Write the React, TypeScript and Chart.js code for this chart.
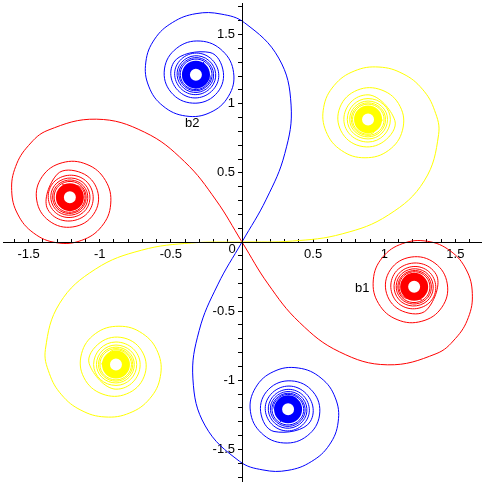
import React, { useEffect, useRef } from 'react';
import { Chart, registerables } from 'chart.js';

Chart.register(...registerables);

// Curve points [x, y] (each colour: two arms through the origin)
const yellowArmNE: number[][] = [
  [0, 0], [0.354, 0.007], [0.705, 0.059], [1.030, 0.196], [1.281, 0.442], [1.382, 0.777], [1.354, 0.951], [1.268, 1.105],
  [1.132, 1.216], [0.963, 1.265], [0.789, 1.236], [0.648, 1.132], [0.574, 0.973], [0.591, 0.799], [0.699, 0.662], [0.865, 0.609],
  [1.031, 0.663], [1.128, 0.808], [1.111, 0.981], [0.984, 1.098], [0.811, 1.098], [0.689, 0.975], [0.696, 0.803], [0.829, 0.694],
  [0.997, 0.727], [1.074, 0.880],
  [0.886, 1.064], [0.716, 0.886], [0.886, 0.723], [1.043, 0.886], [0.886, 1.037], [0.740, 0.886], [0.886, 0.745], [1.023, 0.886],
  [0.886, 1.019], [0.757, 0.886], [0.886, 0.760], [1.009, 0.886], [0.886, 1.006], [0.768, 0.886], [0.886, 0.771], [0.999, 0.886],
  [0.886, 0.997], [0.777, 0.886], [0.886, 0.779], [0.991, 0.886],
];
const yellowArmSW: number[][] = [
  [0, 0], [-0.354, -0.007], [-0.705, -0.059], [-1.030, -0.196], [-1.281, -0.442], [-1.382, -0.777], [-1.354, -0.951], [-1.268, -1.105],
  [-1.132, -1.216], [-0.963, -1.265], [-0.789, -1.236], [-0.648, -1.132], [-0.574, -0.973], [-0.591, -0.799], [-0.699, -0.662], [-0.865, -0.609],
  [-1.031, -0.663], [-1.128, -0.808], [-1.111, -0.981], [-0.984, -1.098], [-0.811, -1.098], [-0.689, -0.975], [-0.696, -0.803], [-0.829, -0.694],
  [-0.997, -0.727], [-1.074, -0.880],
  [-0.886, -1.064], [-0.716, -0.886], [-0.886, -0.723], [-1.043, -0.886], [-0.886, -1.037], [-0.740, -0.886], [-0.886, -0.745], [-1.023, -0.886],
  [-0.886, -1.019], [-0.757, -0.886], [-0.886, -0.760], [-1.009, -0.886], [-0.886, -1.006], [-0.768, -0.886], [-0.886, -0.771], [-0.999, -0.886],
  [-0.886, -0.997], [-0.777, -0.886], [-0.886, -0.779], [-0.991, -0.886],
];
const redArmSE: number[][] = [
  [0, 0], [0.183, -0.303], [0.404, -0.581], [0.685, -0.794], [1.023, -0.888], [1.364, -0.808], [1.501, -0.697], [1.591, -0.546],
  [1.619, -0.372], [1.577, -0.202], [1.465, -0.065], [1.304, 0.005], [1.130, -0.011], [0.987, -0.112], [0.923, -0.274], [0.960, -0.445],
  [1.090, -0.561], [1.264, -0.573], [1.405, -0.472], [1.443, -0.303], [1.356, -0.153], [1.189, -0.109], [1.043, -0.201], [1.016, -0.371],
  [1.128, -0.500], [1.299, -0.490],
  [1.365, -0.235], [1.125, -0.177], [1.069, -0.406], [1.289, -0.460], [1.341, -0.249], [1.138, -0.198], [1.088, -0.395], [1.279, -0.443],
  [1.326, -0.258], [1.146, -0.212], [1.101, -0.387], [1.272, -0.431], [1.315, -0.264], [1.152, -0.223], [1.111, -0.382], [1.267, -0.422],
  [1.306, -0.269], [1.156, -0.230], [1.118, -0.378], [1.263, -0.415],
];
const redArmNW: number[][] = [
  [0, 0], [-0.183, 0.303], [-0.404, 0.581], [-0.685, 0.794], [-1.023, 0.888], [-1.364, 0.808], [-1.501, 0.697], [-1.591, 0.546],
  [-1.619, 0.372], [-1.577, 0.202], [-1.465, 0.065], [-1.304, -0.005], [-1.130, 0.011], [-0.987, 0.112], [-0.923, 0.274], [-0.960, 0.445],
  [-1.090, 0.561], [-1.264, 0.573], [-1.405, 0.472], [-1.443, 0.303], [-1.356, 0.153], [-1.189, 0.109], [-1.043, 0.201], [-1.016, 0.371],
  [-1.128, 0.500], [-1.299, 0.490],
  [-1.365, 0.235], [-1.125, 0.177], [-1.069, 0.406], [-1.289, 0.460], [-1.341, 0.249], [-1.138, 0.198], [-1.088, 0.395], [-1.279, 0.443],
  [-1.326, 0.258], [-1.146, 0.212], [-1.101, 0.387], [-1.272, 0.431], [-1.315, 0.264], [-1.152, 0.223], [-1.111, 0.382], [-1.267, 0.422],
  [-1.306, 0.269], [-1.156, 0.230], [-1.118, 0.378], [-1.263, 0.415],
];
const blueArmS: number[][] = [
  [0, 0], [-0.171, -0.310], [-0.301, -0.640], [-0.345, -0.990], [-0.258, -1.330], [-0.018, -1.585], [0.147, -1.648], [0.323, -1.651],
  [0.487, -1.588], [0.614, -1.467], [0.676, -1.301], [0.656, -1.127], [0.556, -0.984], [0.396, -0.911], [0.224, -0.936], [0.095, -1.054],
  [0.059, -1.224], [0.136, -1.381], [0.294, -1.453], [0.459, -1.401], [0.545, -1.251], [0.500, -1.084], [0.347, -1.004], [0.187, -1.065],
  [0.131, -1.227], [0.225, -1.370],
  [0.479, -1.300], [0.409, -1.063], [0.183, -1.129], [0.246, -1.346], [0.455, -1.286], [0.397, -1.084], [0.202, -1.140], [0.256, -1.329],
  [0.440, -1.277], [0.389, -1.098], [0.215, -1.147], [0.263, -1.317], [0.429, -1.271], [0.383, -1.109], [0.225, -1.153], [0.268, -1.308],
  [0.420, -1.266], [0.379, -1.116], [0.232, -1.157], [0.272, -1.301],
];
const blueArmN: number[][] = [
  [0, 0], [0.171, 0.310], [0.301, 0.640], [0.345, 0.990], [0.258, 1.330], [0.018, 1.585], [-0.147, 1.648], [-0.323, 1.651],
  [-0.487, 1.588], [-0.614, 1.467], [-0.676, 1.301], [-0.656, 1.127], [-0.556, 0.984], [-0.396, 0.911], [-0.224, 0.936], [-0.095, 1.054],
  [-0.059, 1.224], [-0.136, 1.381], [-0.294, 1.453], [-0.459, 1.401], [-0.545, 1.251], [-0.500, 1.084], [-0.347, 1.004], [-0.187, 1.065],
  [-0.131, 1.227], [-0.225, 1.370],
  [-0.479, 1.300], [-0.409, 1.063], [-0.183, 1.129], [-0.246, 1.346], [-0.455, 1.286], [-0.397, 1.084], [-0.202, 1.140], [-0.256, 1.329],
  [-0.440, 1.277], [-0.389, 1.098], [-0.215, 1.147], [-0.263, 1.317], [-0.429, 1.271], [-0.383, 1.109], [-0.225, 1.153], [-0.268, 1.308],
  [-0.420, 1.266], [-0.379, 1.116], [-0.232, 1.157], [-0.272, 1.301],
];

// Centres of the dense inner windings
const yellowCentres: number[][] = [[0.886, 0.886], [-0.886, -0.886]];
const redCentres: number[][] = [[1.210, -0.324], [-1.210, 0.324]];
const blueCentres: number[][] = [[0.324, -1.210], [-0.324, 1.210]];

// Tick labels
const xTickLabels = [-1.5, -1, -0.5, 0.5, 1, 1.5];
const yTickLabels = [-1.5, -1, -0.5, 0.5, 1, 1.5];
const curveLabelText = ['b1', 'b2'];
const curveLabelX = [0.845, -0.35];
const curveLabelY = [-0.335, 0.86];

// index of the last point of the open arm; quarter-turn windings follow it
const WIND_START = 25;

const FONT = '"Liberation Sans", Arial, sans-serif';
const HIDDEN = 'rgba(0,0,0,0)';

const toXY = (pts: number[][]) => pts.map(([x, y]) => ({ x, y }));

const curve = (label: string, pts: number[][], color: string, tension: number, hiddenSeg: number) => ({
  label,
  data: toXY(pts),
  showLine: true,
  borderColor: color,
  backgroundColor: color,
  borderWidth: 1,
  pointRadius: 0,
  tension,
  fill: false,
  segment: {
    borderColor: (ctx: any) => (ctx.p0DataIndex === hiddenSeg ? HIDDEN : undefined),
  },
});

// open arm (smaller steps) and windings (quarter turns) share points so the joins stay smooth
const arm = (label: string, pts: number[][], color: string) => [
  curve(label, pts.slice(0, WIND_START + 3), color, 0.4, WIND_START + 1),
  curve(label + ' windings', pts.slice(WIND_START), color, 0.55, 0),
];

const core = (label: string, pts: number[][], color: string) => ({
  label,
  data: toXY(pts),
  showLine: false,
  pointStyle: 'circle',
  pointRadius: 10,
  borderWidth: 8,
  borderColor: color,
  backgroundColor: 'rgba(0,0,0,0)',
});

const labelFor = (list: number[]) => (value: any) => {
  const v = Math.round(Number(value) * 10) / 10;
  return list.some((t) => Math.abs(t - v) < 1e-6) ? String(v) : '';
};

const zeroScale = (s: any) => {
  if (s.isHorizontal()) s.height = 0; else s.width = 0;
  s.paddingLeft = 0; s.paddingRight = 0; s.paddingTop = 0; s.paddingBottom = 0;
};

const textPlugin = {
  id: 'textPlugin',
  afterDraw(chart: any) {
    const { ctx, scales } = chart;
    const xs = scales.x, ys = scales.y;
    ctx.save();
    ctx.fillStyle = '#000';
    ctx.font = `13px ${FONT}`;
    ctx.textAlign = 'center';
    ctx.textBaseline = 'middle';
    ctx.fillText('0', xs.getPixelForValue(0) - 10, ys.getPixelForValue(0) + 7);
    curveLabelText.forEach((t, i) => {
      ctx.fillText(t, xs.getPixelForValue(curveLabelX[i]), ys.getPixelForValue(curveLabelY[i]));
    });
    ctx.restore();
  },
};

export default function App() {
  const ref = useRef<HTMLCanvasElement | null>(null);
  useEffect(() => {
    if (!ref.current) return;
    const chart = new Chart(ref.current, {
      type: 'scatter',
      data: {
        datasets: [
          ...arm('yellow +', yellowArmNE, '#ffff00'),
          ...arm('yellow -', yellowArmSW, '#ffff00'),
          core('yellow core', yellowCentres, '#ffff00'),
          ...arm('blue +', blueArmS, '#0000ff'),
          ...arm('blue -', blueArmN, '#0000ff'),
          core('blue core', blueCentres, '#0000ff'),
          ...arm('red +', redArmSE, '#ff0000'),
          ...arm('red -', redArmNW, '#ff0000'),
          core('red core', redCentres, '#ff0000'),
        ] as any,
      },
      options: {
        animation: false,
        responsive: false,
        events: [],
        layout: { padding: 3, autoPadding: false },
        plugins: { legend: { display: false }, tooltip: { enabled: false } },
        scales: {
          x: {
            type: 'linear',
            min: -1.68,
            max: 1.68,
            position: 'center',
            z: 1,
            afterFit: zeroScale,
            grid: { display: true, drawOnChartArea: false, drawTicks: true, tickLength: -4, color: '#000', lineWidth: 1 },
            border: { display: true, color: '#000', width: 1, z: 1 },
            ticks: {
              stepSize: 0.1,
              autoSkip: false,
              includeBounds: false,
              maxRotation: 0,
              minRotation: 0,
              padding: 9,
              color: '#000',
              font: { family: FONT, size: 13 },
              callback: labelFor(xTickLabels),
            },
          },
          y: {
            type: 'linear',
            min: -1.728,
            max: 1.728,
            position: 'center',
            z: 1,
            afterFit: zeroScale,
            grid: { display: true, drawOnChartArea: false, drawTicks: true, tickLength: 4, color: '#000', lineWidth: 1 },
            border: { display: true, color: '#000', width: 1, z: 1 },
            ticks: {
              stepSize: 0.1,
              autoSkip: false,
              includeBounds: false,
              padding: 3,
              color: '#000',
              font: { family: FONT, size: 13 },
              callback: labelFor(yTickLabels),
            },
          },
        } as any,
      },
      plugins: [textPlugin],
    });
    return () => chart.destroy();
  }, []);
  return (
    <div style={{ position: 'fixed', left: 0, top: 0, width: 484, height: 484, background: '#fff' }}>
      <canvas ref={ref} width={484} height={484} style={{ display: 'block' }} />
    </div>
  );
}
